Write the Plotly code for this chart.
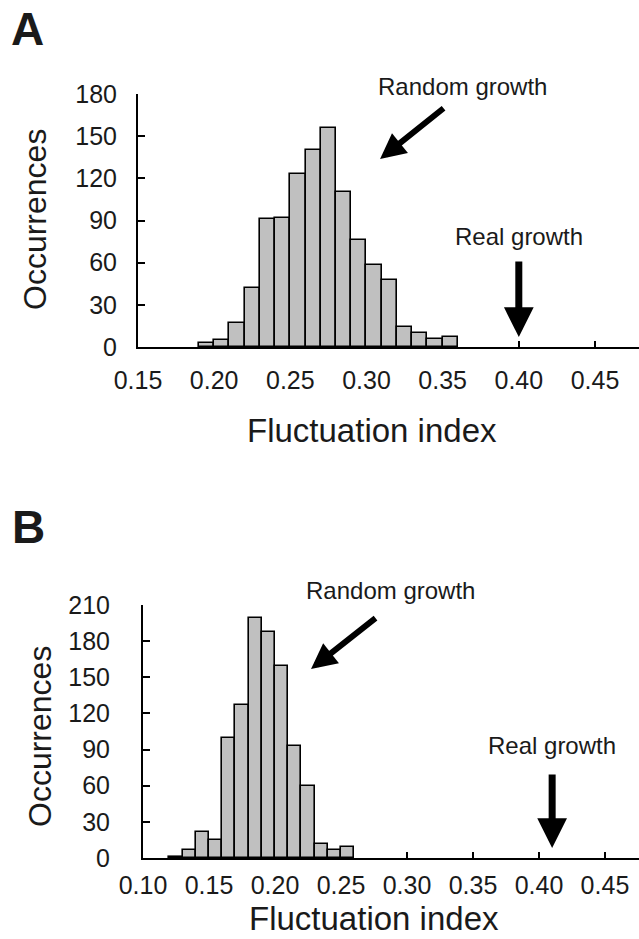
import plotly.graph_objects as go

W, H = 639, 939
FONT = "Liberation Sans, Arial, sans-serif"
INK = "#1a1a1a"

# Histogram of the fluctuation index, panel A (bin left edges, width 0.01)
bins_a = [0.19, 0.20, 0.21, 0.22, 0.23, 0.24, 0.25, 0.26, 0.27, 0.28,
          0.29, 0.30, 0.31, 0.32, 0.33, 0.34, 0.35]
counts_a = [3, 5, 17, 42, 91, 92, 123, 140, 156, 110, 76, 58, 48, 14, 10, 6, 7]
real_a = 0.40

# Histogram of the fluctuation index, panel B
bins_b = [0.12, 0.13, 0.14, 0.15, 0.16, 0.17, 0.18, 0.19, 0.20, 0.21,
          0.22, 0.23, 0.24, 0.25]
counts_b = [1, 7, 22, 15, 100, 127, 199, 188, 159, 93, 60, 12, 7, 9]
real_b = 0.41

bin_width = 0.01
xticks_a = [0.15, 0.20, 0.25, 0.30, 0.35, 0.40, 0.45]
xticks_b = [0.10, 0.15, 0.20, 0.25, 0.30, 0.35, 0.40, 0.45]
yticks_a = [0, 30, 60, 90, 120, 150, 180]
yticks_b = [0, 30, 60, 90, 120, 150, 180, 210]


def px(x):
    return x / W


def py(y):
    return 1 - y / H


fig = go.Figure()
for bins, counts, xa, ya in [(bins_a, counts_a, "x", "y"), (bins_b, counts_b, "x2", "y2")]:
    fig.add_trace(go.Bar(
        x=[b + bin_width / 2 for b in bins], y=counts, width=bin_width,
        marker=dict(color="#c0c0c0", line=dict(color="black", width=1.6)),
        xaxis=xa, yaxis=ya, showlegend=False, hoverinfo="skip",
    ))

common_x = dict(showgrid=False, zeroline=False, showline=True, linecolor="black",
                linewidth=2, ticks="inside", ticklen=6, tickwidth=1.5, tickcolor="black",
                tickformat=".2f", layer="below traces", automargin=False,
                tickfont=dict(family=FONT, size=25, color=INK))
common_y = dict(showgrid=False, zeroline=False, showline=True, linecolor="black",
                linewidth=2, ticks="inside", ticklen=7, tickwidth=1.5, tickcolor="black",
                layer="below traces", automargin=False,
                tickfont=dict(family=FONT, size=25, color=INK))

fig.update_layout(
    width=W, height=H, margin=dict(l=0, r=0, t=0, b=0, autoexpand=False),
    paper_bgcolor="white", plot_bgcolor="white", bargap=0,
    xaxis=dict(common_x, domain=[px(138), 1], range=[0.15, 0.4789],
               tickvals=xticks_a, anchor="y", ticklabelstandoff=10),
    yaxis=dict(common_y, domain=[py(347), py(94)], range=[0, 180],
               tickvals=yticks_a, anchor="x", ticklabelstandoff=14),
    xaxis2=dict(common_x, domain=[px(143), 1], range=[0.10, 0.4758],
                tickvals=xticks_b, anchor="y2", ticklabelstandoff=4),
    yaxis2=dict(common_y, domain=[py(858), py(605)], range=[0, 210],
                tickvals=yticks_b, anchor="x2", ticklabelstandoff=26),
)

C = dict(xanchor="center", yanchor="middle", showarrow=False)
ann = []
# panel letters
ann.append(dict(C, text="<b>A</b>", x=px(27), y=py(29), xref="paper", yref="paper",
                font=dict(family=FONT, size=46, color=INK)))
ann.append(dict(C, text="<b>B</b>", x=px(28), y=py(527), xref="paper", yref="paper",
                font=dict(family=FONT, size=46, color=INK)))
# axis titles
for xc, yc in [(372, 430), (374, 918)]:
    ann.append(dict(C, text="Fluctuation index", x=px(xc), y=py(yc), xref="paper", yref="paper",
                    font=dict(family=FONT, size=33, color=INK)))
for xc, yc in [(35, 220), (40, 737)]:
    ann.append(dict(C, text="Occurrences", x=px(xc), y=py(yc), xref="paper", yref="paper",
                    textangle=-90, font=dict(family=FONT, size=32, color=INK)))

# annotation labels and arrows
lab = dict(family=FONT, size=24, color=INK)
arrow = dict(text="", showarrow=True, arrowhead=2, arrowcolor="black")
ann += [
    dict(C, text="Random growth", x=px(462), y=py(86), xref="paper", yref="paper", font=lab),
    dict(arrow, x=0.3089, y=133.7, xref="x", yref="y", ax=65, ay=-52,
         arrowwidth=6, arrowsize=0.85),
    dict(C, text="Real growth", x=real_a, y=78.3, xref="x", yref="y", font=lab),
    dict(arrow, x=real_a, y=7.1, xref="x", yref="y", ax=0, ay=-77,
         arrowwidth=7, arrowsize=0.85),
    dict(C, text="Random growth", x=px(390), y=py(590), xref="paper", yref="paper", font=lab),
    dict(arrow, x=0.2273, y=156.9, xref="x2", yref="y2", ax=66, ay=-52,
         arrowwidth=6, arrowsize=0.85),
    dict(C, text="Real growth", x=real_b, y=93, xref="x2", yref="y2", font=lab),
    dict(arrow, x=real_b, y=8.3, xref="x2", yref="y2", ax=0, ay=-75,
         arrowwidth=7, arrowsize=0.85),
]
fig.update_layout(annotations=ann)

fig.write_html("out.html")
